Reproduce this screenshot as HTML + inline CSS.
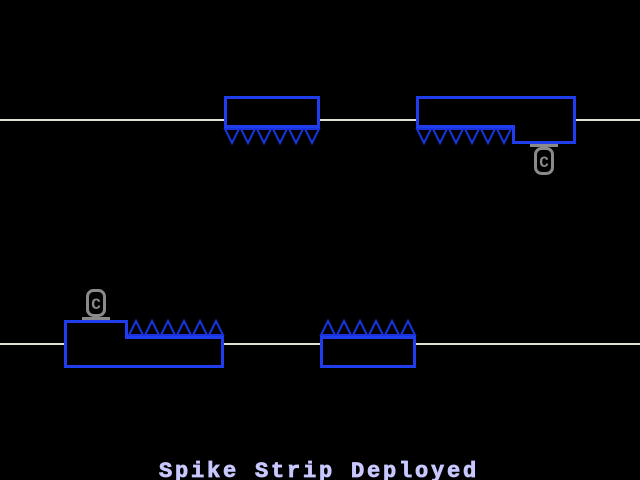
<!DOCTYPE html>
<html><head><style>
html,body{margin:0;padding:0;background:#000;width:640px;height:480px;overflow:hidden}
svg{display:block}
</style></head><body>
<svg width="640" height="480" viewBox="0 0 640 480" xmlns="http://www.w3.org/2000/svg">
<rect width="640" height="480" fill="#000"/>
<g fill="#e0e0d0">
<rect x="0" y="119" width="224" height="2"/><rect x="320" y="119" width="96" height="2"/><rect x="576" y="119" width="64" height="2"/>
<rect x="0" y="343" width="64" height="2"/><rect x="224" y="343" width="96" height="2"/><rect x="416" y="343" width="224" height="2"/>
</g>
<g fill="none" stroke="#1e3ef0" stroke-width="3">
<rect x="225.5" y="97.5" width="93" height="29"/>
<polygon points="417.5,97.5 574.5,97.5 574.5,142.5 513.5,142.5 513.5,126.5 417.5,126.5"/>
<polygon points="65.5,321.5 126.5,321.5 126.5,337.5 222.5,337.5 222.5,366.5 65.5,366.5"/>
<rect x="321.5" y="337.5" width="93" height="29"/>
</g>
<g fill="none" stroke="#1a34e0" stroke-width="2">
<polygon points="225,129 239,129 232,143"/><polygon points="241,129 255,129 248,143"/><polygon points="257,129 271,129 264,143"/><polygon points="273,129 287,129 280,143"/><polygon points="289,129 303,129 296,143"/><polygon points="305,129 319,129 312,143"/>
<polygon points="417,129 431,129 424,143"/><polygon points="433,129 447,129 440,143"/><polygon points="449,129 463,129 456,143"/><polygon points="465,129 479,129 472,143"/><polygon points="481,129 495,129 488,143"/><polygon points="497,129 511,129 504,143"/>
<polygon points="129,335 143,335 136,321"/><polygon points="145,335 159,335 152,321"/><polygon points="161,335 175,335 168,321"/><polygon points="177,335 191,335 184,321"/><polygon points="193,335 207,335 200,321"/><polygon points="209,335 223,335 216,321"/>
<polygon points="321,335 335,335 328,321"/><polygon points="337,335 351,335 344,321"/><polygon points="353,335 367,335 360,321"/><polygon points="369,335 383,335 376,321"/><polygon points="385,335 399,335 392,321"/><polygon points="401,335 415,335 408,321"/>
</g>
<g fill="none" stroke="#8a8a8a" stroke-width="3">
<rect x="87.5" y="290.5" width="17" height="25" rx="6"/>
<rect x="535.5" y="148.5" width="17" height="25" rx="6"/>
</g>
<g fill="#8a8a8a">
<rect x="82" y="317" width="28" height="3"/>
<rect x="530" y="144" width="28" height="3"/>
</g>
<g font-family="Liberation Mono, monospace" font-weight="bold" font-size="16" fill="#8a8a8a" text-anchor="middle">
<text x="96" y="309">C</text>
<text x="544" y="167">C</text>
</g>
<text x="319" y="477" font-family="Liberation Mono, monospace" font-weight="bold" font-size="22" fill="#c8c8ff" stroke="#c8c8ff" stroke-width="0.8" text-anchor="middle" letter-spacing="2.8">Spike Strip Deployed</text>
</svg>
</body></html>
